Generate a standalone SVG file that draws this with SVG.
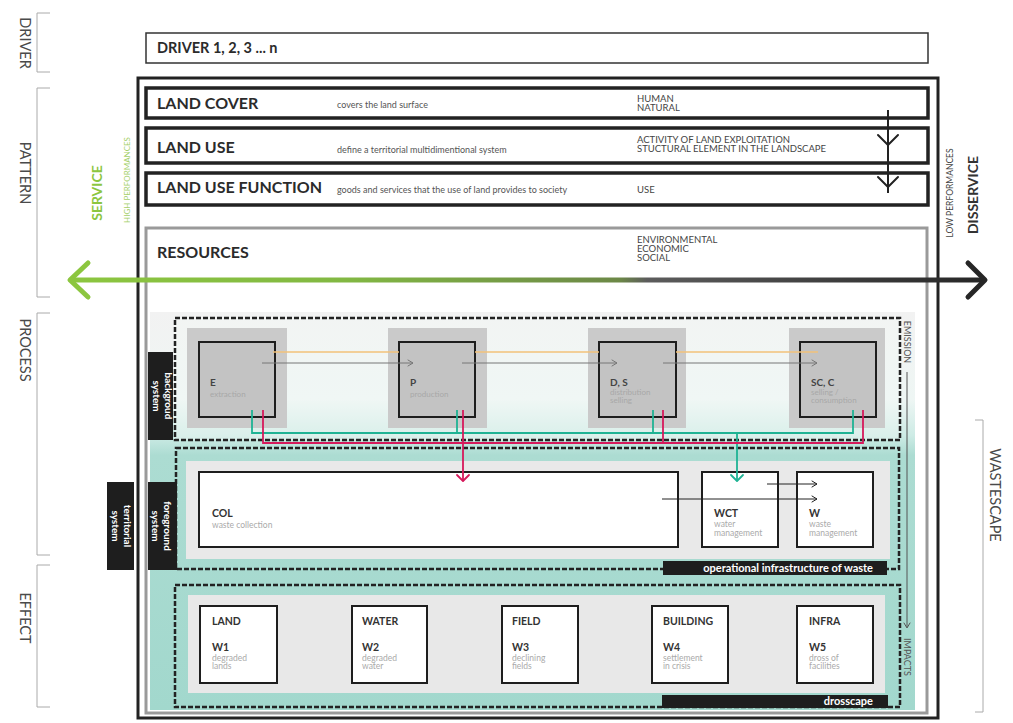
<svg xmlns="http://www.w3.org/2000/svg" width="1013" height="723" viewBox="0 0 1013 723">
<defs>
<linearGradient id="arrowGrad" gradientUnits="userSpaceOnUse" x1="68" y1="0" x2="987" y2="0">
<stop offset="0" stop-color="#8cc63f"/>
<stop offset="0.3" stop-color="#82b843"/>
<stop offset="0.6" stop-color="#6c8847"/>
<stop offset="0.63" stop-color="#5c5c5c"/>
<stop offset="1" stop-color="#262626"/>
</linearGradient>
<linearGradient id="procGrad" x1="0" y1="0" x2="0" y2="1">
<stop offset="0" stop-color="#f2f2f2"/>
<stop offset="0.22" stop-color="#eef6f4"/>
<stop offset="0.31" stop-color="#cdebe5"/>
<stop offset="0.36" stop-color="#acdcd2"/>
<stop offset="1" stop-color="#a2d8cd"/>
</linearGradient>
</defs>
<style>
text{font-family:Lato,"Liberation Sans",sans-serif;}
.side{font-size:14.5px;fill:#4a4a4a;}
.bracket{stroke:#aaa;stroke-width:1;fill:none;}
.h1{font-size:16px;font-weight:700;fill:#2b2b2b;}
.desc{font-size:9px;fill:#555;}
.caps{font-size:9.5px;fill:#444;}
.band{fill:#fff;stroke:#222;stroke-width:3.5;}
.dash{fill:none;stroke:#222;stroke-width:2.5;stroke-dasharray:5 2;}
.lbl{fill:#1e1e1e;}
.lbltxt{font-size:10px;font-weight:700;fill:#fff;}
.pout{fill:#cacaca;}
.pin{fill:#c3c3c3;stroke:#1e1e1e;stroke-width:2;}
.pcode{font-size:10px;font-weight:700;fill:#444;}
.pdesc{font-size:8px;fill:#a8a8a8;}
.wbox{fill:#fff;stroke:#1e1e1e;stroke-width:2;}
.wcode{font-size:10.5px;font-weight:700;fill:#333;}
.wdesc{font-size:8.5px;fill:#aaa;}
.tag{font-size:11px;font-weight:700;fill:#fff;}
.small{font-size:9px;fill:#555;}
.ar{fill:none;stroke-linecap:round;stroke-linejoin:round;}
</style>

<!-- side labels -->
<g id="side-labels">
<path class="bracket" d="M50,13 H37 V72 H50"/>
<path class="bracket" d="M50,88 H37 V297 H50"/>
<path class="bracket" d="M50,313 H37 V555 H50"/>
<path class="bracket" d="M50,565 H37 V707 H50"/>
<text class="side" text-anchor="middle" dy="0.35em" transform="translate(25,43) rotate(90)">DRIVER</text>
<text class="side" text-anchor="middle" dy="0.35em" transform="translate(25,173) rotate(90)">PATTERN</text>
<text class="side" text-anchor="middle" dy="0.35em" transform="translate(25,350) rotate(90)">PROCESS</text>
<text class="side" text-anchor="middle" dy="0.35em" transform="translate(25,618) rotate(90)">EFFECT</text>
<path class="bracket" d="M975,420 H983 V712 H975"/>
<text class="side" text-anchor="middle" dy="0.35em" transform="translate(995,495) rotate(90)">WASTESCAPE</text>
</g>

<!-- driver -->
<g id="driver">
<rect x="146" y="33" width="782" height="30" fill="#fff" stroke="#333" stroke-width="1.5"/>
<text x="157" y="53" font-size="14.5" font-weight="700" fill="#2b2b2b">DRIVER 1, 2, 3 ... n</text>
</g>

<!-- outer frame -->
<rect id="territorial-frame" x="138" y="78" width="800" height="640" fill="none" stroke="#222" stroke-width="3"/>

<g id="land-cover">
<rect class="band" x="146" y="88" width="782" height="30"/>
<text class="h1" x="157" y="109">LAND COVER</text>
<text class="desc" x="337" y="108">covers the land surface</text>
<text class="caps" x="637" y="102">HUMAN</text>
<text class="caps" x="637" y="111">NATURAL</text>
</g>
<g id="land-use">
<rect class="band" x="146" y="128" width="782" height="35"/>
<text class="h1" x="157" y="153">LAND USE</text>
<text class="desc" x="337" y="153">define a territorial multidimentional system</text>
<text class="caps" x="637" y="143">ACTIVITY OF LAND EXPLOITATION</text>
<text class="caps" x="637" y="152">STUCTURAL ELEMENT IN THE LANDSCAPE</text>
</g>
<g id="land-use-function">
<rect class="band" x="146" y="173" width="782" height="32"/>
<text class="h1" x="157" y="193">LAND USE FUNCTION</text>
<text class="desc" x="337" y="193">goods and services that the use of land provides to society</text>
<text class="caps" x="637" y="193">USE</text>
</g>

<!-- resources -->
<g id="resources">
<rect x="146" y="228" width="781" height="485" fill="#fff" stroke="#9a9a9a" stroke-width="3"/>
<text class="h1" x="157" y="258">RESOURCES</text>
<text class="caps" x="637" y="243">ENVIRONMENTAL</text>
<text class="caps" x="637" y="252">ECONOMIC</text>
<text class="caps" x="637" y="261">SOCIAL</text>
</g>

<!-- process panel -->
<rect x="150" y="312" width="765" height="398" fill="url(#procGrad)"/>

<g id="background-system">
<rect x="175" y="318" width="725" height="122" fill="#f4f8f7" fill-opacity="0.35"/>
<rect class="dash" x="175" y="318" width="725" height="122"/>
<rect class="lbl" x="148" y="352" width="25" height="88"/>
<g transform="translate(160.5,396) rotate(90)">
<text class="lbltxt" text-anchor="middle" y="-4">backgroud</text>
<text class="lbltxt" text-anchor="middle" y="8">system</text>
</g>
</g>

<g id="foreground-system">
<rect x="186" y="461" width="704" height="98" fill="#e9e9e9"/>
<rect class="dash" x="176" y="448" width="723" height="121"/>
<rect class="lbl" x="148" y="482" width="29" height="88"/>
<g transform="translate(162.5,526) rotate(90)">
<text class="lbltxt" text-anchor="middle" y="-1">foreground</text>
<text class="lbltxt" text-anchor="middle" y="11">system</text>
</g>
<rect class="lbl" x="663" y="561" width="224" height="14"/>
<text class="tag" x="873" y="572" text-anchor="end">operational infrastructure of waste</text>
</g>

<g id="territorial-system">
<rect class="lbl" x="107" y="482" width="27" height="88"/>
<g transform="translate(120.5,526) rotate(90)">
<text class="lbltxt" text-anchor="middle" y="-3.5">territorial</text>
<text class="lbltxt" text-anchor="middle" y="8.5">system</text>
</g>
</g>

<g id="effect-system">
<rect x="188" y="595" width="697" height="98" fill="#e8e8e8"/>
<rect class="dash" x="175" y="585" width="725" height="122"/>
<rect class="lbl" x="662" y="695" width="226" height="13"/>
<text class="tag" x="873" y="705" text-anchor="end">drosscape</text>
</g>

<!-- process nodes -->
<g id="node-E">
<rect class="pout" x="187" y="328" width="100" height="100"/>
<rect class="pin" x="199" y="342" width="76" height="75"/>
<text class="pcode" x="210" y="386">E</text>
<text class="pdesc" x="210" y="397">extraction</text>
</g>
<g id="node-P">
<rect class="pout" x="388" y="328" width="99" height="100"/>
<rect class="pin" x="399" y="342" width="76" height="75"/>
<text class="pcode" x="410" y="386">P</text>
<text class="pdesc" x="410" y="397">production</text>
</g>
<g id="node-DS">
<rect class="pout" x="588" y="328" width="98" height="100"/>
<rect class="pin" x="599" y="342" width="77" height="75"/>
<text class="pcode" x="610" y="386">D, S</text>
<text class="pdesc" x="610" y="395">distribution</text>
<text class="pdesc" x="610" y="403">selling</text>
</g>
<g id="node-SCC">
<rect class="pout" x="789" y="328" width="96" height="100"/>
<rect class="pin" x="800" y="342" width="76" height="75"/>
<text class="pcode" x="811" y="386">SC, C</text>
<text class="pdesc" x="811" y="395">selling /</text>
<text class="pdesc" x="811" y="403">consumption</text>
</g>

<!-- foreground nodes -->
<g id="node-COL">
<rect class="wbox" x="199" y="472" width="479" height="75"/>
<text class="wcode" x="212" y="517">COL</text>
<text class="wdesc" x="212" y="528">waste collection</text>
</g>
<g id="node-WCT">
<rect class="wbox" x="702" y="472" width="76" height="75"/>
<text class="wcode" x="714" y="517">WCT</text>
<text class="wdesc" x="714" y="527">water</text>
<text class="wdesc" x="714" y="536">management</text>
</g>
<g id="node-W">
<rect class="wbox" x="797" y="472" width="76" height="75"/>
<text class="wcode" x="809" y="517">W</text>
<text class="wdesc" x="809" y="527">waste</text>
<text class="wdesc" x="809" y="536">management</text>
</g>

<!-- effect nodes -->
<g id="node-W1">
<rect class="wbox" x="200" y="606" width="77" height="77"/>
<text class="wcode" x="212" y="625">LAND</text>
<text class="wcode" x="212" y="651">W1</text>
<text class="wdesc" x="212" y="661">degraded</text>
<text class="wdesc" x="212" y="669">lands</text>
</g>
<g id="node-W2">
<rect class="wbox" x="352" y="606" width="75" height="77"/>
<text class="wcode" x="362" y="625">WATER</text>
<text class="wcode" x="362" y="651">W2</text>
<text class="wdesc" x="362" y="661">degraded</text>
<text class="wdesc" x="362" y="669">water</text>
</g>
<g id="node-W3">
<rect class="wbox" x="502" y="606" width="76" height="77"/>
<text class="wcode" x="512" y="625">FIELD</text>
<text class="wcode" x="512" y="651">W3</text>
<text class="wdesc" x="512" y="661">declining</text>
<text class="wdesc" x="512" y="669">fields</text>
</g>
<g id="node-W4">
<rect class="wbox" x="652" y="606" width="76" height="77"/>
<text class="wcode" x="663" y="625">BUILDING</text>
<text class="wcode" x="663" y="651">W4</text>
<text class="wdesc" x="663" y="661">settlement</text>
<text class="wdesc" x="663" y="669">in crisis</text>
</g>
<g id="node-W5">
<rect class="wbox" x="797" y="606" width="76" height="77"/>
<text class="wcode" x="809" y="625">INFRA</text>
<text class="wcode" x="809" y="651">W5</text>
<text class="wdesc" x="809" y="661">dross of</text>
<text class="wdesc" x="809" y="669">facilities</text>
</g>

<!-- connectors -->
<g id="connectors">
<!-- pattern arrows -->
<line x1="888" y1="110" x2="888" y2="193" stroke="#222" stroke-width="2"/>
<polyline class="ar" points="878,135 888,145 898,135" stroke="#222" stroke-width="2"/>
<polyline class="ar" points="878,177 888,187 898,177" stroke="#222" stroke-width="2"/>
<!-- orange -->
<g stroke="#f2c27a" stroke-width="1.5">
<line x1="273" y1="352" x2="399" y2="352"/>
<line x1="475" y1="352" x2="599" y2="352"/>
<line x1="676" y1="352" x2="818" y2="352"/>
</g>
<!-- gray flow -->
<g stroke="#777" stroke-width="1">
<line x1="262" y1="363" x2="413" y2="363"/>
<line x1="462" y1="363" x2="617" y2="363"/>
<line x1="663" y1="363" x2="817" y2="363"/>
<polyline class="ar" points="408,360 413,363 408,366"/>
<polyline class="ar" points="612,360 617,363 612,366"/>
<polyline class="ar" points="812,360 817,363 812,366"/>
</g>
<!-- teal -->
<g stroke="#1fb394" stroke-width="1.8" fill="none">
<polyline points="252,410 252,433 853,433 853,410"/>
<line x1="457" y1="410" x2="457" y2="433"/>
<line x1="653" y1="410" x2="653" y2="433"/>
<line x1="737" y1="433" x2="737" y2="481"/>
<polyline class="ar" points="731,475 737,481 743,475"/>
</g>
<!-- red -->
<g stroke="#d6195b" stroke-width="1.8" fill="none">
<polyline points="263,410 263,443 863,443 863,410"/>
<line x1="663" y1="410" x2="663" y2="443"/>
<line x1="463" y1="410" x2="463" y2="481"/>
<polyline class="ar" points="457,475 463,481 469,475"/>
</g>
<!-- foreground arrows -->
<g stroke="#222" stroke-width="1">
<line x1="767" y1="484" x2="817" y2="484"/>
<line x1="662" y1="499" x2="817" y2="499"/>
<polyline class="ar" points="812,481 817,484 812,487"/>
<polyline class="ar" points="812,496 817,499 812,502"/>
</g>
<!-- emission to impacts -->
<line x1="907" y1="372" x2="907" y2="627" stroke="#555" stroke-width="1"/>
<polyline class="ar" points="904,623 907,628 910,623" stroke="#555" stroke-width="1"/>
<!-- service/disservice arrow -->
<rect x="70" y="277.5" width="915" height="5" fill="url(#arrowGrad)"/>
<polyline class="ar" points="88,263 70,280 88,297" stroke="#8cc63f" stroke-width="5"/>
<polyline class="ar" points="968,263 985,280 968,297" stroke="#262626" stroke-width="5"/>
</g>

<g id="emission-impacts">
<text class="small" text-anchor="middle" dy="0.35em" transform="translate(907,342) rotate(90)">EMISSION</text>
<text class="small" text-anchor="middle" dy="0.35em" transform="translate(907,657) rotate(90)">IMPACTS</text>
</g>

<g id="service">
<text text-anchor="middle" dy="0.35em" font-size="14" font-weight="700" fill="#8cc63f" transform="translate(97,193) rotate(-90)">SERVICE</text>
<text text-anchor="middle" dy="0.35em" font-size="8" fill="#a5d06a" transform="translate(127,180) rotate(-90)">HIGH PERFORMANCES</text>
</g>
<g id="disservice">
<text text-anchor="middle" dy="0.35em" font-size="14" font-weight="700" fill="#333" transform="translate(973,195) rotate(-90)">DISSERVICE</text>
<text text-anchor="middle" dy="0.35em" font-size="8.5" fill="#444" transform="translate(950,193) rotate(-90)">LOW PERFORMANCES</text>
</g>
</svg>
